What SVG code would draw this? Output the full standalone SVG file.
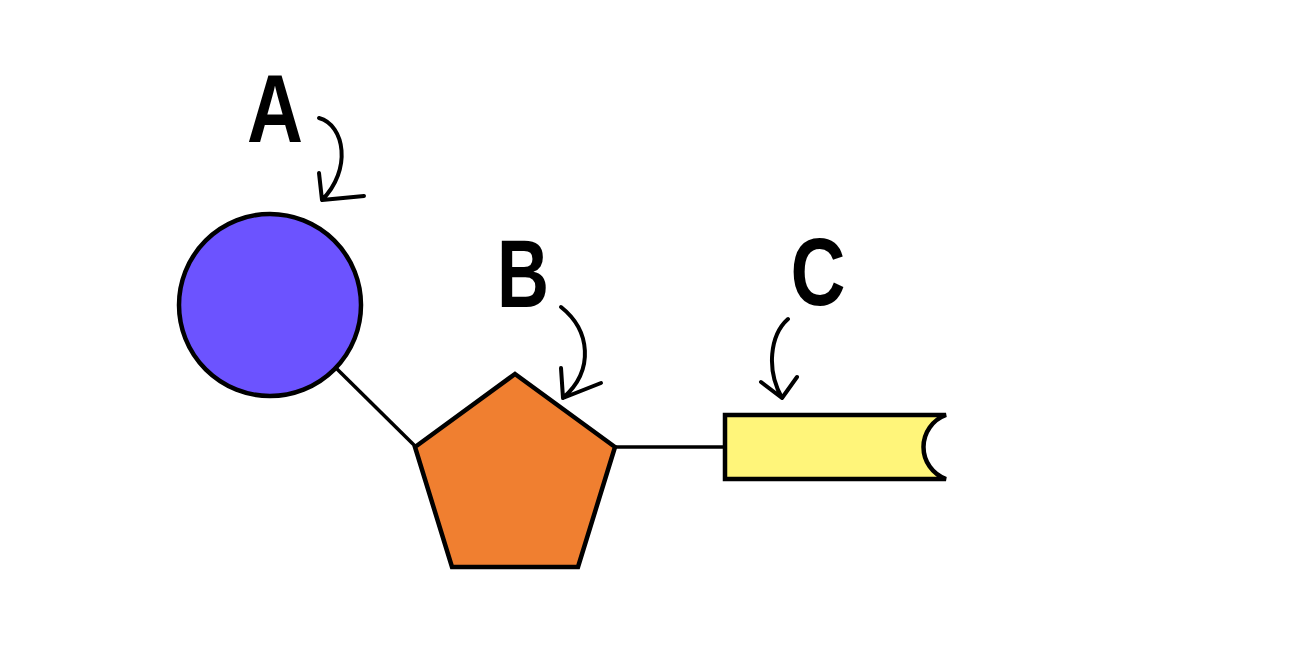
<svg xmlns="http://www.w3.org/2000/svg" width="1298" height="670" viewBox="0 0 1298 670">
<style>
.shape{stroke:#000;stroke-width:4.5;stroke-linejoin:miter}
.link{stroke:#000;stroke-width:3.5;fill:none}
.ptr{stroke:#000;stroke-width:4;fill:none;stroke-linecap:round;stroke-linejoin:round}
.lbl{font-family:"Liberation Sans",Arial,sans-serif;font-weight:bold;font-size:96px;fill:#000;text-anchor:middle}
</style>
<rect width="1298" height="670" fill="#fff"/>
<g id="connectors">
<line class="link" x1="336" y1="368" x2="416" y2="447"/>
<line class="link" x1="614" y1="447" x2="726" y2="447"/>
</g>
<g id="nodeA">
<circle class="shape" cx="270" cy="305" r="91" fill="#6C53FF"/>
</g>
<g id="nodeB">
<polygon class="shape" points="515,374 615,447 578,567 452,567 415,447" fill="#F07F30"/>
</g>
<g id="nodeC">
<path class="shape" d="M725,415 H946 A34,34 0 0 0 946,479 H725 Z" fill="#FFF57A"/>
</g>
<g id="labelA">
<text class="lbl" x="275" y="142" textLength="56" lengthAdjust="spacingAndGlyphs">A</text>
<path class="ptr" d="M319,118 C345,125 352,170 322,200 M319,173 L322,200 L364,196"/>
</g>
<g id="labelB">
<text class="lbl" x="523" y="307" textLength="52" lengthAdjust="spacingAndGlyphs">B</text>
<path class="ptr" d="M561,307 C590,330 595,370 563,398 M561,368 L563,398 L601,383"/>
</g>
<g id="labelC">
<text class="lbl" x="818" y="305" textLength="55" lengthAdjust="spacingAndGlyphs">C</text>
<path class="ptr" d="M788,319 C770,335 766,370 782,398 M761,382 L782,398 L797,377"/>
</g>
</svg>
